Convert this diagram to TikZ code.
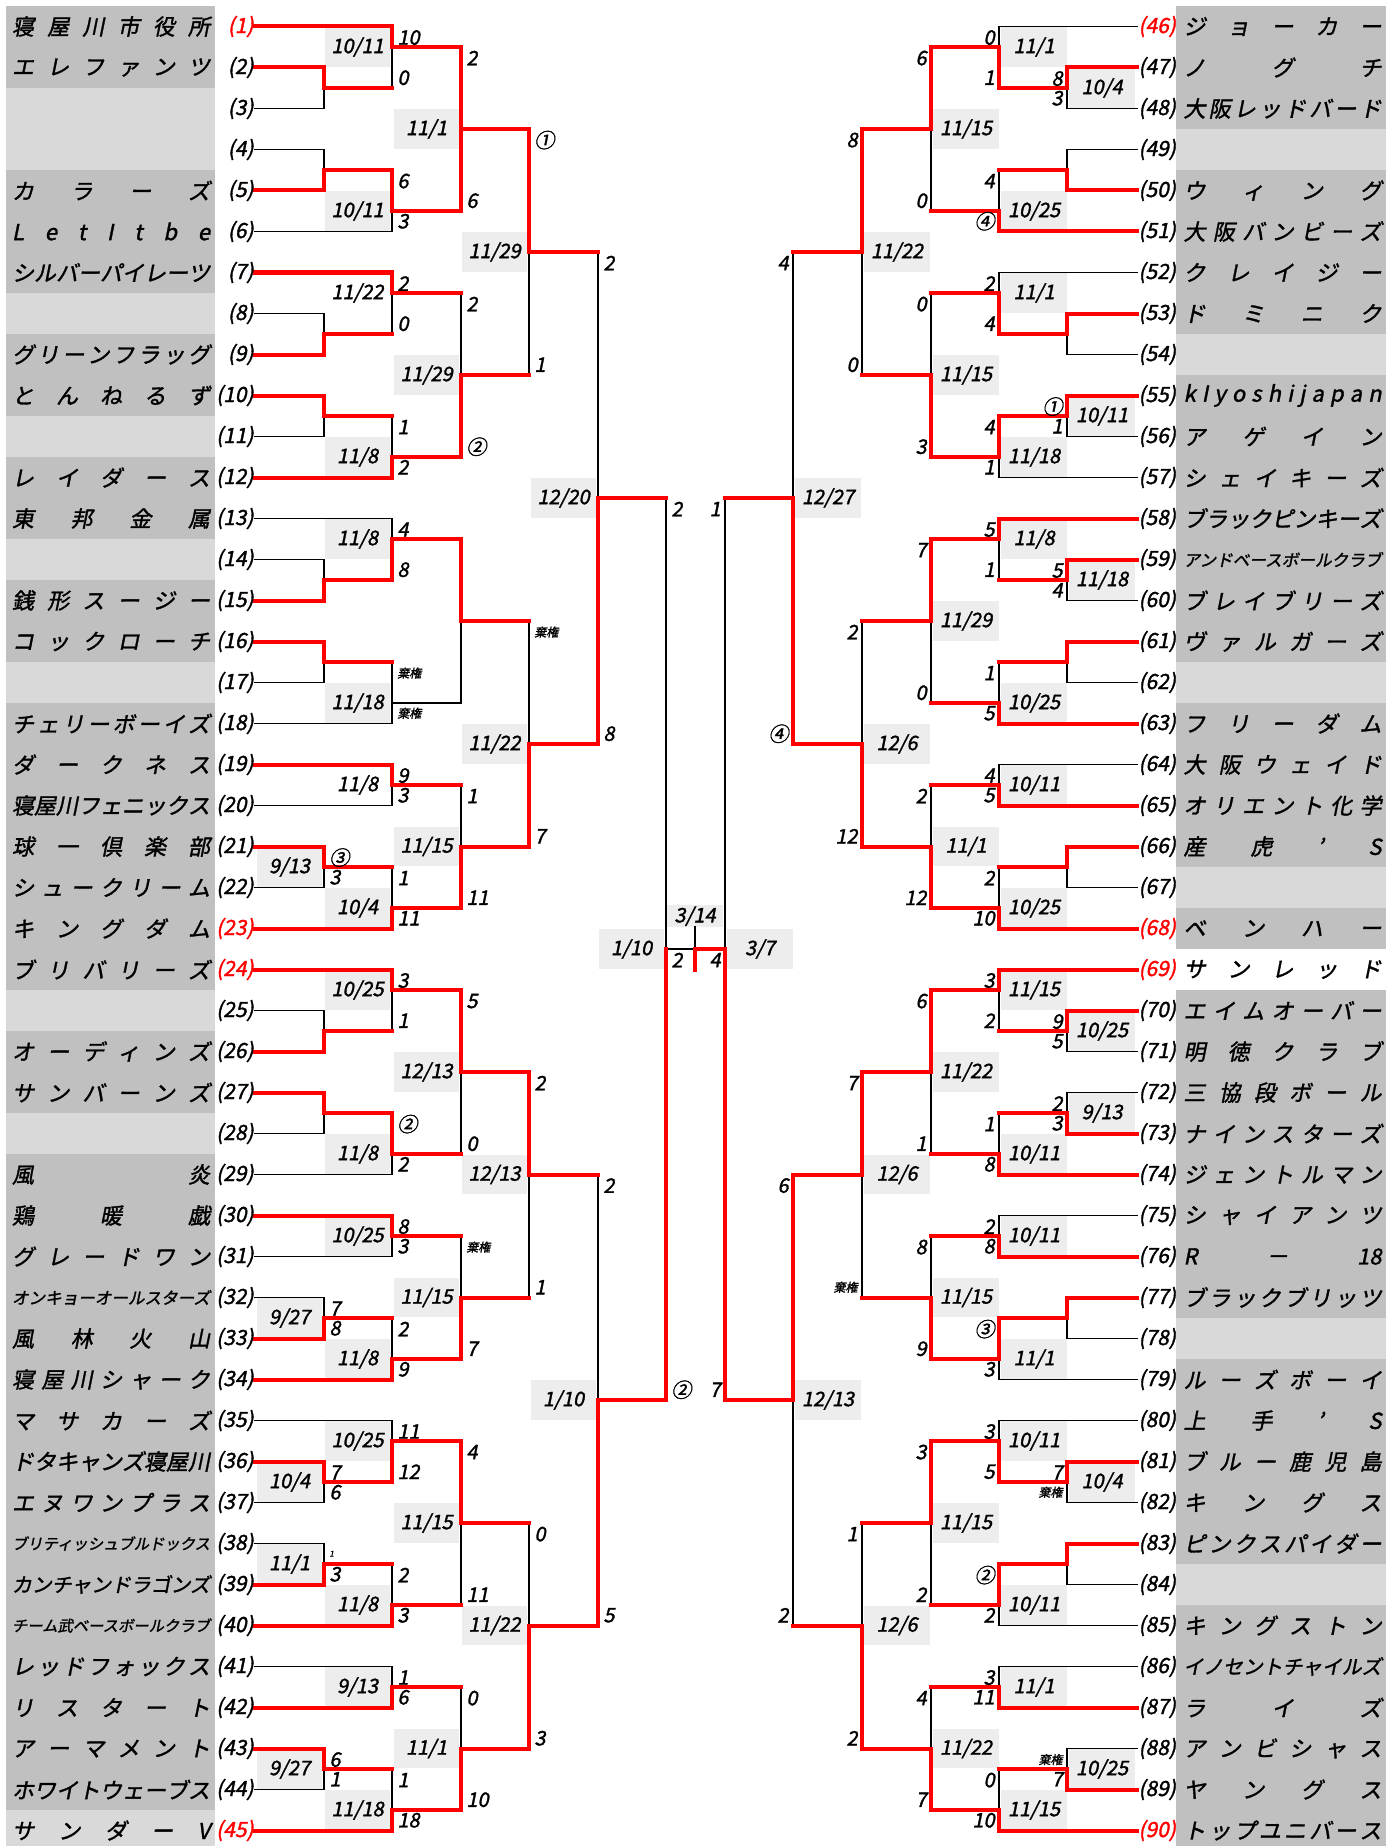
\documentclass[tikz,border=0pt]{standalone}
\usepackage{fontspec}
\usepackage{graphicx}
\setmainfont{Noto Sans CJK JP}[FakeSlant=0.2, FakeBold=1.5]
\usetikzlibrary{positioning}

\definecolor{cellgray}{RGB}{192,192,192}
\definecolor{byegray}{RGB}{217,217,217}
\definecolor{dategray}{RGB}{237,237,237}
\definecolor{winred}{RGB}{255,0,0}

% team names: spread over the cell, or squeezed when too long
\newcommand{\nm}[1]{\makebox[99pt][s]{\spaceskip=0pt plus 1fil\relax #1}}
\newcommand{\nl}[1]{\resizebox{99pt}{!}{#1}}
\newcommand{\dd}[2]{#1/#2}

\pgfdeclarelayer{bg}
\pgfdeclarelayer{ls}
\pgfdeclarelayer{wn}
\pgfsetlayers{bg,ls,wn,main}

\tikzset{
  ls/.style={draw=black, line width=0.85pt, line cap=rect},
  wn/.style={draw=winred, line width=2pt, line cap=rect},
  teamname/.style={inner sep=0pt, font=\fontsize{11}{11}\selectfont},
  seedno/.style={inner sep=0pt, font=\fontsize{10.5}{10.5}\selectfont},
  scr/.style={inner sep=0pt, font=\fontsize{10}{10}\selectfont},
  dlabel/.style={inner sep=0pt, font=\fontsize{10}{10}\selectfont},
  kiken/.style={inner sep=0pt, font=\fontsize{6}{6}\selectfont},
}

\newcommand{\seedpair}[2]{%
  \pgfmathtruncatemacro{\rt}{#1+45}%
  \node[seedno, text=#2, anchor=east] (sl#1) at (254,#1) {(#1)};
  \node[seedno, text=#2, anchor=west] (sr#1) at (1138,#1) {(\rt)};
}

\begin{document}
\begin{tikzpicture}[x=0.5pt, y=-20.5pt]
\useasboundingbox (0,0.35366) rectangle (1395,45.37805);

% name cells
\begin{pgfonlayer}{bg}
\fill[cellgray] (6,0.5) rectangle (215,45.5);
\fill[cellgray] (1176,0.5) rectangle (1386,45.5);
\foreach \r in {3,4,8,11,14,17,25,28,45}
  \fill[byegray] (6,\r-0.5) rectangle (215,\r+0.5);
\foreach \r in {4,9,17,22,33,39}
  \fill[byegray] (1176,\r-0.5) rectangle (1386,\r+0.5);
\fill[white] (1176,23.5) rectangle (1386,24.5);
\end{pgfonlayer}

% team names
\foreach \r/\t in {1/\nm{寝 屋 川 市 役 所}, 2/\nm{エ レ フ ァ ン ツ}, 5/\nm{カ ラ ー ズ},
  6/\nm{L e t I t b e}, 7/\nm{シ ル バ ー パ イ レ ー ツ}, 9/\nm{グ リ ー ン フ ラ ッ グ},
  10/\nm{と ん ね る ず}, 12/\nm{レ イ ダ ー ス}, 13/\nm{東 邦 金 属},
  15/\nm{銭 形 ス ー ジ ー}, 16/\nm{コ ッ ク ロ ー チ}, 18/\nm{チ ェ リ ー ボ ー イ ズ},
  19/\nm{ダ ー ク ネ ス}, 20/\nm{寝 屋 川 フ ェ ニ ッ ク ス}, 21/\nm{球 一 倶 楽 部},
  22/\nm{シ ュ ー ク リ ー ム}, 23/\nm{キ ン グ ダ ム}, 24/\nm{ブ リ バ リ ー ズ},
  26/\nm{オ ー デ ィ ン ズ}, 27/\nm{サ ン バ ー ン ズ}, 29/\nm{風 炎},
  30/\nm{鶏 暖 戯}, 31/\nm{グ レ ー ド ワ ン}, 32/\nl{オンキョーオールスターズ},
  33/\nm{風 林 火 山}, 34/\nm{寝 屋 川 シ ャ ー ク}, 35/\nm{マ サ カ ー ズ},
  36/\nm{ド タ キ ャ ン ズ 寝 屋 川}, 37/\nm{エ ヌ ワ ン プ ラ ス}, 38/\nl{ブリティッシュブルドックス},
  39/\nl{カンチャンドラゴンズ}, 40/\nl{チーム武ベースボールクラブ}, 41/\nm{レ ッ ド フ ォ ッ ク ス},
  42/\nm{リ ス タ ー ト}, 43/\nm{ア ー マ メ ン ト}, 44/\nm{ホ ワ イ ト ウ ェ ー ブ ス},
  45/\nm{サ ン ダ ー V}}
  \node[teamname] (tl\r) at (111,\r) {\t};

\foreach \r/\t in {1/\nm{ジ ョ ー カ ー}, 2/\nm{ノ グ チ}, 3/\nm{大 阪 レ ッ ド バ ー ド},
  5/\nm{ウ ィ ン グ}, 6/\nm{大 阪 バ ン ビ ー ズ}, 7/\nm{ク レ イ ジ ー}, 8/\nm{ド ミ ニ ク},
  10/\nm{k I y o s h i j a p a n}, 11/\nm{ア ゲ イ ン}, 12/\nm{シ ェ イ キ ー ズ},
  13/\nm{ブ ラ ッ ク ピ ン キ ー ズ}, 14/\nl{アンドベースボールクラブ}, 15/\nm{ブ レ イ ブ リ ー ズ},
  16/\nm{ヴ ァ ル ガ ー ズ}, 18/\nm{フ リ ー ダ ム}, 19/\nm{大 阪 ウ ェ イ ド},
  20/\nm{オ リ エ ン ト 化 学}, 21/\nm{産 虎 ’ S}, 23/\nm{ベ ン ハ ー},
  24/\nm{サ ン レ ッ ド}, 25/\nm{エ イ ム オ ー バ ー}, 26/\nm{明 徳 ク ラ ブ},
  27/\nm{三 協 段 ボ ー ル}, 28/\nm{ナ イ ン ス タ ー ズ}, 29/\nm{ジ ェ ン ト ル マ ン},
  30/\nm{シ ャ イ ア ン ツ}, 31/\nm{R － 18}, 32/\nm{ブ ラ ッ ク ブ リ ッ ツ},
  34/\nm{ル ー ズ ボ ー イ}, 35/\nm{上 手 ’ S}, 36/\nm{ブ ル ー 鹿 児 島},
  37/\nm{キ ン グ ス}, 38/\nm{ピ ン ク ス パ イ ダ ー}, 40/\nm{キ ン グ ス ト ン},
  41/\nl{イノセントチャイルズ}, 42/\nm{ラ イ ズ}, 43/\nm{ア ン ビ シ ャ ス},
  44/\nm{ヤ ン グ ス}, 45/\nm{ト ッ プ ユ ニ バ ー ス}}
  \node[teamname] (tr\r) at (1282.5,\r) {\t};

% seed numbers
\foreach \r in {2,...,22} {\seedpair{\r}{black}}
\foreach \r in {25,...,44} {\seedpair{\r}{black}}
\foreach \r in {1,23,24,45} {\seedpair{\r}{winred}}

% lines from the seeds
\foreach \r/\xe/\c in {1/392/wn, 2/324/wn, 3/324/ls, 4/324/ls, 5/324/wn, 6/392/ls,
  7/392/wn, 8/324/ls, 9/324/wn, 10/324/wn, 11/324/ls, 12/392/wn, 13/392/ls,
  14/324/ls, 15/324/wn, 16/324/wn, 17/324/ls, 18/392/ls, 19/392/wn, 20/392/ls,
  21/324/wn, 22/324/ls, 23/392/wn, 24/392/wn, 25/324/ls, 26/324/wn, 27/324/wn,
  28/324/ls, 29/392/ls, 30/392/wn, 31/392/ls, 32/324/ls, 33/324/wn, 34/392/wn,
  35/392/ls, 36/324/wn, 37/324/ls, 38/324/ls, 39/324/wn, 40/392/wn, 41/392/ls,
  42/392/wn, 43/324/wn, 44/324/ls, 45/392/wn} {
  \begin{pgfonlayer}{\c}\draw[\c] (255,\r) -- (\xe,\r);\end{pgfonlayer}
}
\foreach \r/\xe/\c in {1/999/ls, 2/1067/wn, 3/1067/ls, 4/1067/ls, 5/1067/wn, 6/999/wn,
  7/999/ls, 8/1067/wn, 9/1067/ls, 10/1067/wn, 11/1067/ls, 12/999/ls, 13/999/wn,
  14/1067/wn, 15/1067/ls, 16/1067/wn, 17/1067/ls, 18/999/wn, 19/999/ls, 20/999/wn,
  21/1067/wn, 22/1067/ls, 23/999/wn, 24/999/wn, 25/1067/wn, 26/1067/ls, 27/1067/ls,
  28/1067/wn, 29/999/wn, 30/999/ls, 31/999/wn, 32/1067/wn, 33/1067/ls, 34/999/ls,
  35/999/ls, 36/1067/wn, 37/1067/ls, 38/1067/wn, 39/1067/ls, 40/999/ls, 41/999/ls,
  42/999/wn, 43/1067/ls, 44/1067/wn, 45/999/wn} {
  \begin{pgfonlayer}{\c}\draw[\c] (1137,\r) -- (\xe,\r);\end{pgfonlayer}
}

% match verticals: column / top / out / bottom / upper style / lower style
\foreach \x/\a/\m/\b/\ca/\cb in {
  324/2/2.5/3/wn/ls, 392/1/1.5/2.5/wn/ls, 324/4/4.5/5/ls/wn, 392/4.5/5.5/6/wn/ls,
  461/1.5/3.5/5.5/wn/wn, 324/8/8.5/9/ls/wn, 392/7/7.5/8.5/wn/ls, 324/10/10.5/11/wn/ls,
  392/10.5/11.5/12/ls/wn, 461/7.5/9.5/11.5/ls/wn, 529/3.5/6.5/9.5/wn/ls,
  324/14/14.5/15/ls/wn, 392/13/13.5/14.5/ls/wn, 324/16/16.5/17/wn/ls,
  392/16.5/17.5/18/ls/ls, 461/13.5/15.5/17.5/wn/ls, 529/15.5/18.5/21/ls/wn,
  392/19/19.5/20/wn/ls, 324/21/21.5/22/wn/ls, 392/21.5/22.5/23/ls/wn,
  461/19.5/21/22.5/ls/wn, 598/6.5/12.5/18.5/ls/wn,
  324/25/25.5/26/ls/wn, 392/24/24.5/25.5/wn/ls, 324/27/27.5/28/wn/ls,
  392/27.5/28.5/29/wn/ls, 461/24.5/26.5/28.5/wn/ls, 392/30/30.5/31/wn/ls,
  324/32/32.5/33/ls/wn, 392/32.5/33.5/34/ls/wn, 461/30.5/32/33.5/ls/wn,
  529/26.5/29/32/wn/ls, 392/35/35.5/36.5/ls/wn, 324/36/36.5/37/wn/ls,
  324/38/38.5/39/ls/wn, 392/38.5/39.5/40/ls/wn, 461/35.5/37.5/39.5/wn/ls,
  529/37.5/40/43/ls/wn, 392/41/41.5/42/ls/wn, 324/43/43.5/44/wn/ls,
  392/43.5/44.5/45/ls/wn, 461/41.5/43/44.5/ls/wn, 598/29/34.5/40/ls/wn,
  666/12.5/23.5/34.5/ls/wn, 695/22.97/23.5/24.02/ls/wn,
  1067/2/2.5/3/wn/ls, 999/1/1.5/2.5/ls/wn, 1067/4/4.5/5/ls/wn, 999/4.5/5.5/6/ls/wn,
  931/1.5/3.5/5.5/wn/ls, 1067/8/8.5/9/wn/ls, 999/7/7.5/8.5/ls/wn,
  1067/10/10.5/11/wn/ls, 999/10.5/11.5/12/wn/ls, 931/7.5/9.5/11.5/ls/wn,
  862/3.5/6.5/9.5/wn/ls, 999/13/13.5/14.5/wn/ls, 1067/14/14.5/15/wn/ls,
  1067/16/16.5/17/wn/ls, 999/16.5/17.5/18/ls/wn, 931/13.5/15.5/17.5/wn/ls,
  999/19/19.5/20/ls/wn, 1067/21/21.5/22/wn/ls, 999/21.5/22.5/23/ls/wn,
  931/19.5/21/22.5/ls/wn, 862/15.5/18.5/21/ls/wn, 793/6.5/12.5/18.5/ls/wn,
  1067/25/25.5/26/wn/ls, 999/24/24.5/25.5/wn/ls, 1067/27/27.5/28/ls/wn,
  999/27.5/28.5/29/ls/wn, 931/24.5/26.5/28.5/wn/ls, 999/30/30.5/31/ls/wn,
  1067/32/32.5/33/wn/ls, 999/32.5/33.5/34/wn/ls, 931/30.5/32/33.5/ls/wn,
  862/26.5/29/32/wn/ls, 1067/36/36.5/37/wn/ls, 999/35/35.5/36.5/ls/wn,
  1067/38/38.5/39/wn/ls, 999/38.5/39.5/40/wn/ls, 931/35.5/37.5/39.5/wn/ls,
  999/41/41.5/42/ls/wn, 1067/43/43.5/44/ls/wn, 999/43.5/44.5/45/ls/wn,
  931/41.5/43/44.5/ls/wn, 862/37.5/40/43/ls/wn, 793/29/34.5/40/wn/ls,
  725/12.5/23.5/34.5/ls/wn} {
  \begin{pgfonlayer}{\ca}\draw[\ca] (\x,\a) -- (\x,\m);\end{pgfonlayer}
  \begin{pgfonlayer}{\cb}\draw[\cb] (\x,\m) -- (\x,\b);\end{pgfonlayer}
}

% lines to the next round
\foreach \r/\xa/\xb/\c in {
  2.5/324/392/wn, 1.5/392/461/wn, 4.5/324/392/wn, 5.5/392/461/wn, 3.5/461/529/wn,
  8.5/324/392/wn, 7.5/392/461/wn, 10.5/324/392/wn, 11.5/392/461/wn, 9.5/461/529/wn,
  6.5/529/598/wn, 14.5/324/392/wn, 13.5/392/461/wn, 16.5/324/392/wn, 17.5/392/461/ls,
  15.5/461/529/wn, 18.5/529/598/wn, 19.5/392/461/wn, 21.5/324/392/wn, 22.5/392/461/wn,
  21/461/529/wn, 12.5/598/666/wn, 25.5/324/392/wn, 24.5/392/461/wn, 27.5/324/392/wn,
  28.5/392/461/wn, 26.5/461/529/wn, 30.5/392/461/wn, 32.5/324/392/wn, 33.5/392/461/wn,
  32/461/529/wn, 29/529/598/wn, 35.5/392/461/wn, 36.5/324/392/wn, 38.5/324/392/wn,
  39.5/392/461/wn, 37.5/461/529/wn, 40/529/598/wn, 41.5/392/461/wn, 43.5/324/392/wn,
  44.5/392/461/wn, 43/461/529/wn, 34.5/598/666/wn, 23.5/666/695/ls,
  2.5/999/1067/wn, 1.5/931/999/wn, 4.5/999/1067/wn, 5.5/931/999/wn, 3.5/862/931/wn,
  8.5/999/1067/wn, 7.5/931/999/wn, 10.5/999/1067/wn, 11.5/931/999/wn, 9.5/862/931/wn,
  6.5/793/862/wn, 13.5/931/999/wn, 14.5/999/1067/wn, 16.5/999/1067/wn, 17.5/931/999/wn,
  15.5/862/931/wn, 19.5/931/999/wn, 21.5/999/1067/wn, 22.5/931/999/wn, 21/862/931/wn,
  18.5/793/862/wn, 12.5/725/793/wn, 25.5/999/1067/wn, 24.5/931/999/wn, 27.5/999/1067/wn,
  28.5/931/999/wn, 26.5/862/931/wn, 30.5/931/999/wn, 32.5/999/1067/wn, 33.5/931/999/wn,
  32/862/931/wn, 29/793/862/wn, 36.5/999/1067/wn, 35.5/931/999/wn, 38.5/999/1067/wn,
  39.5/931/999/wn, 37.5/862/931/wn, 41.5/931/999/wn, 43.5/999/1067/wn, 44.5/931/999/wn,
  43/862/931/wn, 40/793/862/wn, 34.5/725/793/wn, 23.5/695/725/wn} {
  \begin{pgfonlayer}{\c}\draw[\c] (\xa,\r) -- (\xb,\r);\end{pgfonlayer}
}

% dates
\foreach \x/\r/\t [count=\i] in {392/1.5/\dd{10}{11}, 392/5.5/\dd{10}{11}, 461/3.5/\dd{11}{1},
  392/11.5/\dd{11}{8}, 461/9.5/\dd{11}{29}, 529/6.5/\dd{11}{29}, 392/13.5/\dd{11}{8},
  392/17.5/\dd{11}{18}, 529/18.5/\dd{11}{22}, 324/21.5/\dd{9}{13}, 392/22.5/\dd{10}{4},
  461/21/\dd{11}{15}, 598/12.5/\dd{12}{20}, 392/24.5/\dd{10}{25}, 392/28.5/\dd{11}{8},
  461/26.5/\dd{12}{13}, 392/30.5/\dd{10}{25}, 324/32.5/\dd{9}{27}, 392/33.5/\dd{11}{8},
  461/32/\dd{11}{15}, 529/29/\dd{12}{13}, 392/35.5/\dd{10}{25}, 324/36.5/\dd{10}{4},
  324/38.5/\dd{11}{1}, 392/39.5/\dd{11}{8}, 461/37.5/\dd{11}{15}, 529/40/\dd{11}{22},
  392/41.5/\dd{9}{13}, 324/43.5/\dd{9}{27}, 392/44.5/\dd{11}{18}, 461/43/\dd{11}{1},
  598/34.5/\dd{1}{10}, 666/23.5/\dd{1}{10}} {
  \begin{pgfonlayer}{bg}\fill[dategray] (\x-67,\r-0.48) rectangle (\x-2,\r+0.48);\end{pgfonlayer}
  \node[dlabel] (dl\i) at (\x-34.5,\r) {\t};
}
\node[dlabel] (dl7) at (357.5,7.5) {11/22};
\node[dlabel] (dl19) at (357.5,19.5) {11/8};
\foreach \x/\r/\t [count=\i] in {1067/2.5/\dd{10}{4}, 999/1.5/\dd{11}{1}, 999/5.5/\dd{10}{25},
  931/3.5/\dd{11}{15}, 999/7.5/\dd{11}{1}, 1067/10.5/\dd{10}{11}, 999/11.5/\dd{11}{18},
  931/9.5/\dd{11}{15}, 862/6.5/\dd{11}{22}, 999/13.5/\dd{11}{8}, 1067/14.5/\dd{11}{18},
  999/17.5/\dd{10}{25}, 931/15.5/\dd{11}{29}, 999/19.5/\dd{10}{11}, 999/22.5/\dd{10}{25},
  931/21/\dd{11}{1}, 862/18.5/\dd{12}{6}, 793/12.5/\dd{12}{27}, 1067/25.5/\dd{10}{25},
  999/24.5/\dd{11}{15}, 1067/27.5/\dd{9}{13}, 999/28.5/\dd{10}{11}, 931/26.5/\dd{11}{22},
  999/30.5/\dd{10}{11}, 999/33.5/\dd{11}{1}, 931/32/\dd{11}{15}, 862/29/\dd{12}{6},
  1067/36.5/\dd{10}{4}, 999/35.5/\dd{10}{11}, 999/39.5/\dd{10}{11}, 931/37.5/\dd{11}{15},
  999/41.5/\dd{11}{1}, 1067/43.5/\dd{10}{25}, 999/44.5/\dd{11}{15}, 931/43/\dd{11}{22},
  862/40/\dd{12}{6}, 793/34.5/\dd{12}{13}, 725/23.5/\dd{3}{7}} {
  \begin{pgfonlayer}{bg}\fill[dategray] (\x+2,\r-0.48) rectangle (\x+68,\r+0.48);\end{pgfonlayer}
  \node[dlabel] (dr\i) at (\x+35,\r) {\t};
}
% final
\begin{pgfonlayer}{bg}\fill[dategray] (667,22.42) rectangle (723,22.97);\end{pgfonlayer}
\node[dlabel] (dfin) at (695,22.7) {3/14};

% scores
\foreach \x/\r/\t [count=\i] in {392/1.27/10, 392/2.25/0, 392/4.77/6, 392/5.75/3,
  461/1.77/2, 461/5.25/6, 392/7.27/2, 392/8.25/0, 392/10.77/1, 392/11.75/2,
  461/7.77/2, 461/11.25/②, 529/3.77/①, 529/9.25/1, 392/13.27/4, 392/14.25/8,
  529/20.75/7, 392/19.27/9, 392/19.75/3, 324/21.27/③, 324/21.75/3,
  392/21.77/1, 392/22.75/11, 461/19.77/1, 461/22.25/11, 598/6.77/2, 598/18.25/8,
  392/24.27/3, 392/25.25/1, 392/27.77/②, 392/28.75/2, 461/24.77/5, 461/28.25/0,
  392/30.27/8, 392/30.75/3, 324/32.27/7, 324/32.75/8, 392/32.77/2, 392/33.75/9,
  461/33.25/7, 529/26.77/2, 529/31.75/1, 392/35.27/11, 392/36.25/12,
  324/36.27/7, 324/36.75/6, 324/38.75/3, 392/38.77/2, 392/39.75/3,
  461/35.77/4, 461/39.25/11, 529/37.77/0, 529/42.75/3, 392/41.27/1, 392/41.75/6,
  324/43.27/6, 324/43.75/1, 392/43.77/1, 392/44.75/18, 461/41.77/0, 461/44.25/10,
  598/29.27/2, 598/39.75/5, 666/12.77/2, 666/34.25/②, 666/23.77/2}
  \node[scr, anchor=west] (pl\i) at (\x+5,\r) {\t};
\foreach \x/\r/\t [count=\i] in {1067/2.27/8, 1067/2.75/3, 999/1.27/0, 999/2.25/1,
  999/4.77/4, 999/5.75/④, 931/1.77/6, 931/5.25/0, 999/7.27/2, 999/8.25/4,
  1067/10.27/①, 1067/10.75/1, 999/10.77/4, 999/11.75/1, 931/7.77/0, 931/11.25/3,
  862/3.77/8, 862/9.25/0, 999/13.27/5, 999/14.25/1, 1067/14.27/5, 1067/14.75/4,
  999/16.77/1, 999/17.75/5, 931/13.77/7, 931/17.25/0, 999/19.27/4, 999/19.75/5,
  999/21.77/2, 999/22.75/10, 931/19.77/2, 931/22.25/12, 862/15.77/2, 862/20.75/12,
  793/6.77/4, 793/18.25/④, 1067/25.27/9, 1067/25.75/5, 999/24.27/3, 999/25.25/2,
  1067/27.27/2, 1067/27.75/3, 999/27.77/1, 999/28.75/8, 931/24.77/6, 931/28.25/1,
  999/30.27/2, 999/30.75/8, 999/32.77/③, 999/33.75/3, 931/30.77/8, 931/33.25/9,
  862/26.77/7, 1067/36.27/7, 999/35.27/3, 999/36.25/5, 999/38.77/②, 999/39.75/2,
  931/35.77/3, 931/39.25/2, 999/41.27/3, 999/41.75/11, 1067/43.75/7,
  999/43.77/0, 999/44.75/10, 931/41.77/4, 931/44.25/7, 862/37.77/1, 862/42.75/2,
  793/29.27/6, 793/39.75/2, 725/12.77/1, 725/34.25/7, 725/23.77/4}
  \node[scr, anchor=east] (pr\i) at (\x-4,\r) {\t};

% forfeits
\foreach \x/\r [count=\i] in {392/16.77, 392/17.75, 529/15.77, 461/30.77}
  \node[kiken, anchor=west] (kl\i) at (\x+5,\r) {棄権};
\foreach \x/\r [count=\i] in {862/31.75, 1067/36.75, 1067/43.27}
  \node[kiken, anchor=east] (kr\i) at (\x-4,\r) {棄権};
\node[inner sep=0pt, font=\fontsize{4}{4}\selectfont, anchor=west] (tiny1) at (329,38.25) {1};
\end{tikzpicture}
\end{document}
